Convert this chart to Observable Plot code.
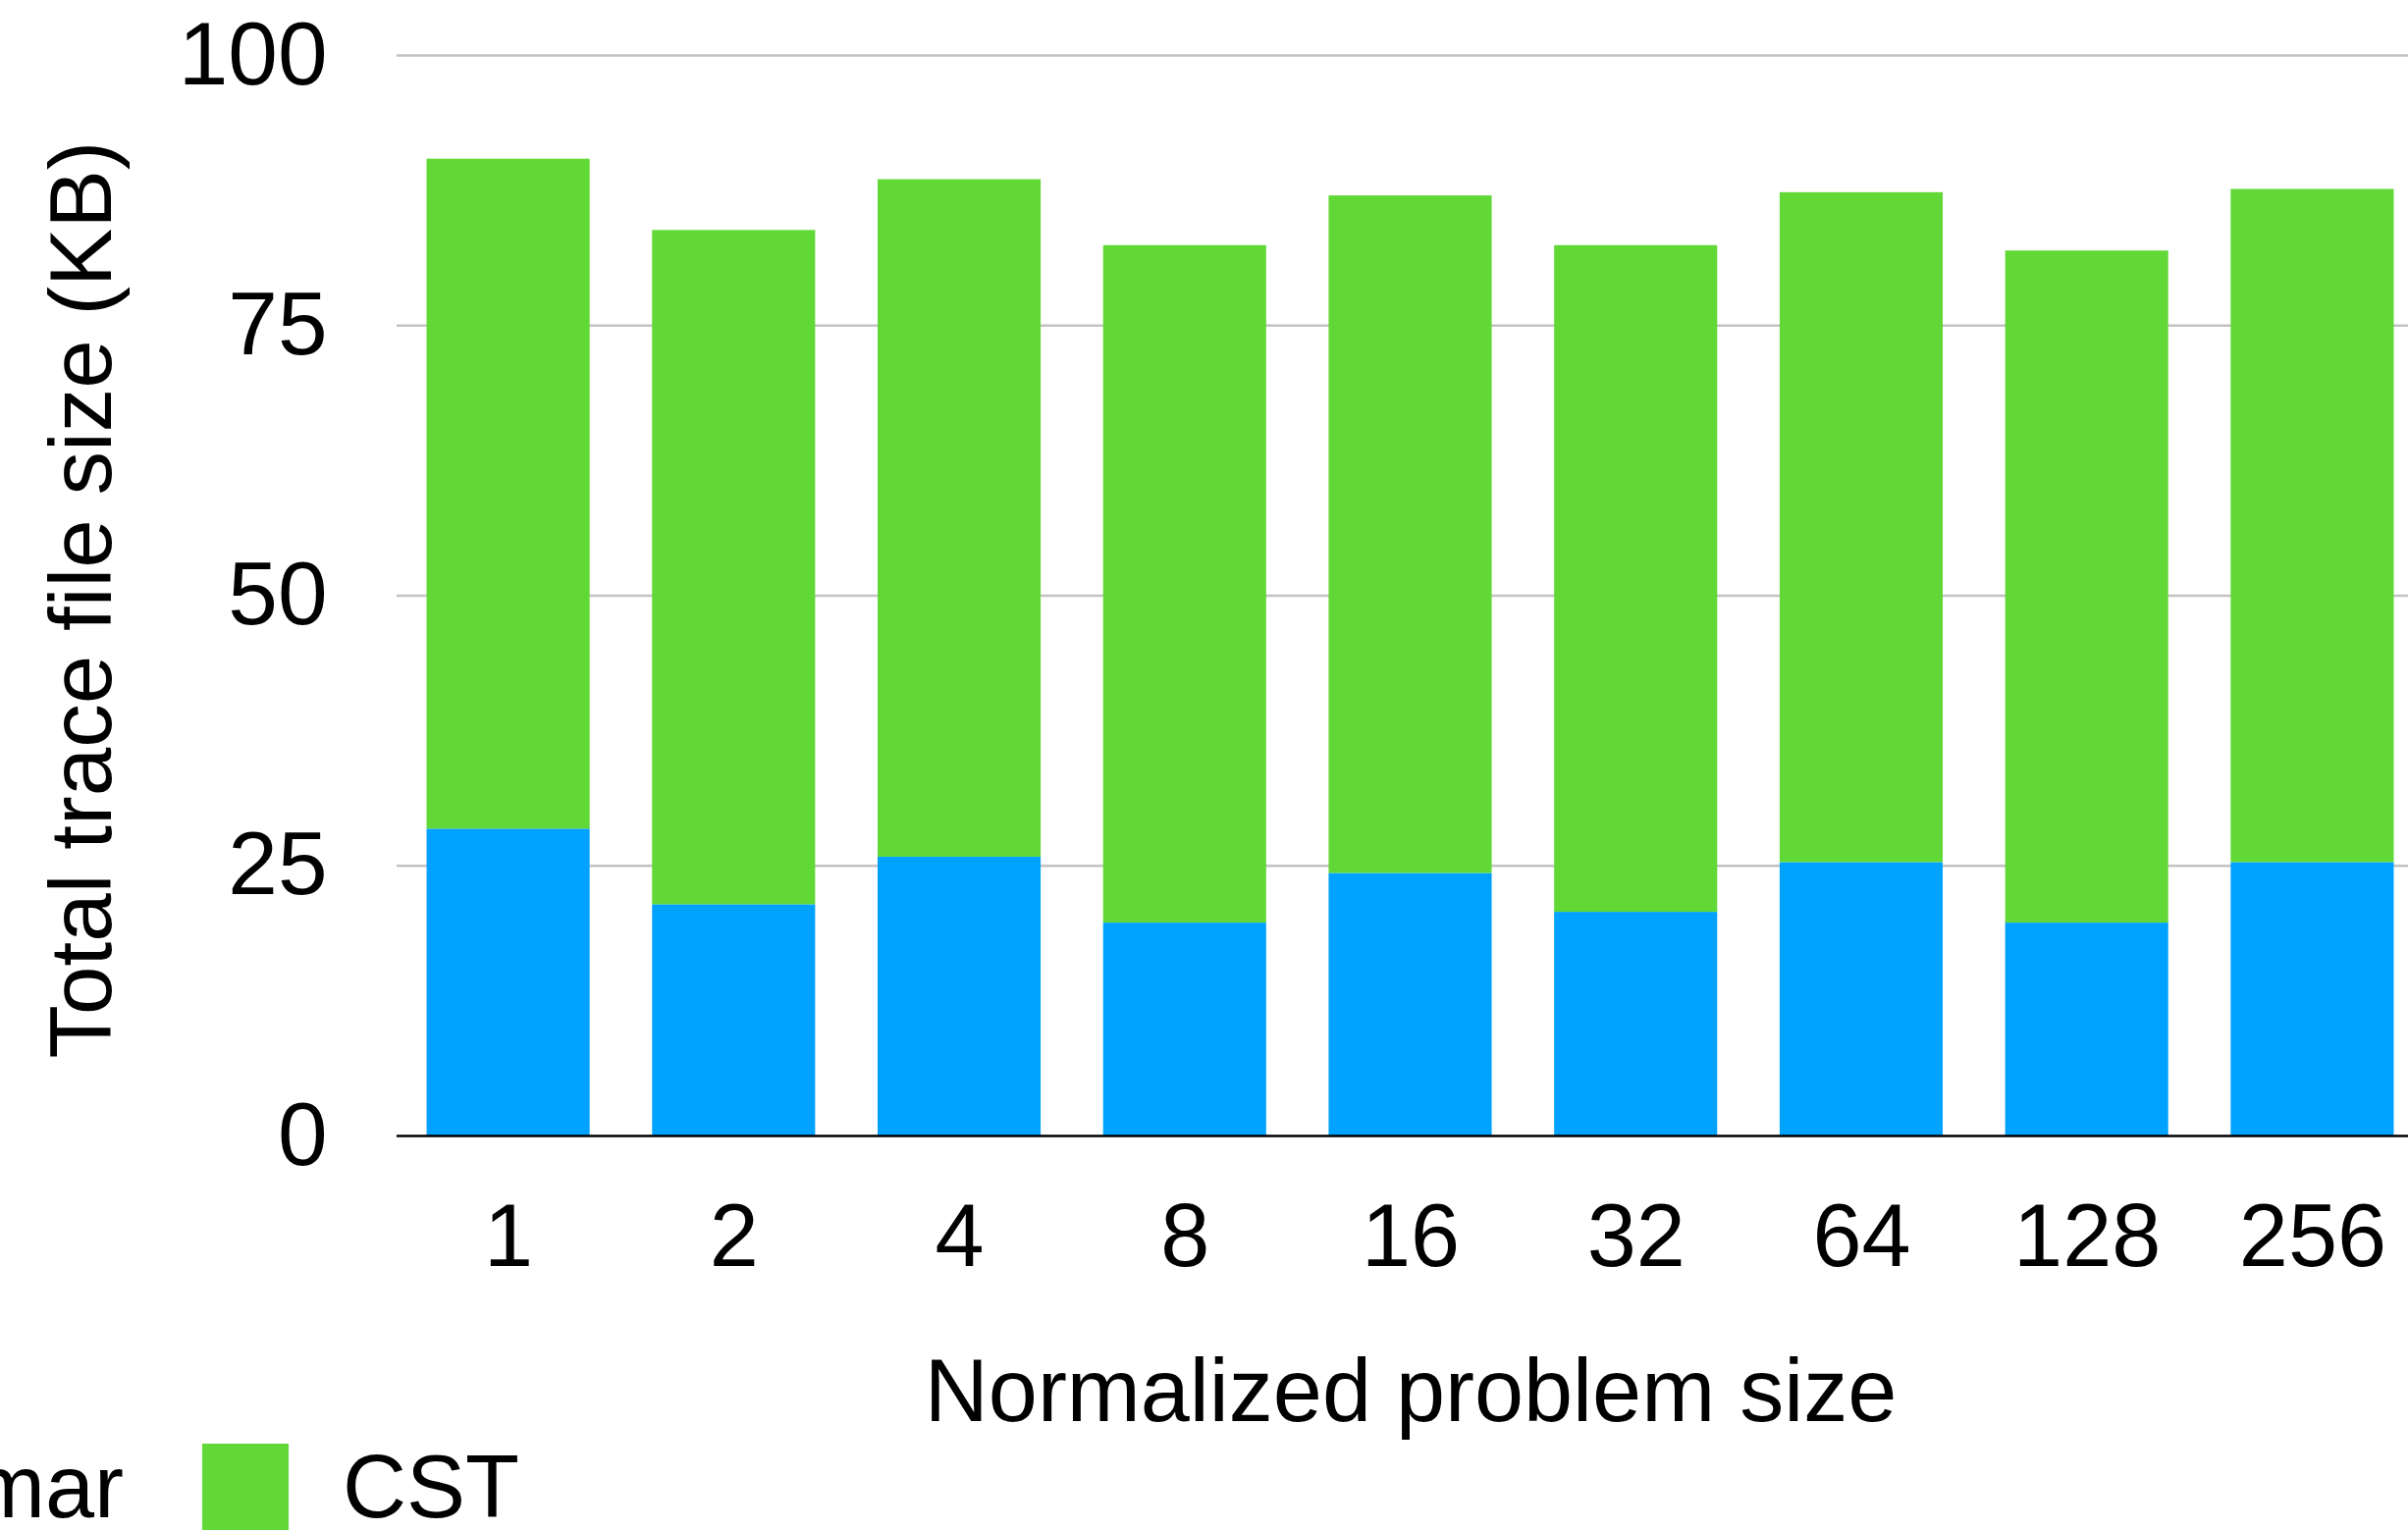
<!DOCTYPE html>
<html>
<head>
<meta charset="utf-8">
<script src="https://cdn.jsdelivr.net/npm/d3@7"></script>
<script src="https://cdn.jsdelivr.net/npm/@observablehq/plot@0.6"></script>
<style>
  html, body { margin: 0; padding: 0; background: #fff; overflow: hidden; }
  #chart { position: relative; width: 2453px; height: 1559px; overflow: hidden; }
  #legend {
    position: absolute; left: -397px; top: 1471px;
    display: flex; align-items: center; white-space: nowrap;
    font-family: "Liberation Sans", Arial, Helvetica, sans-serif; font-size: 90px; color: #000;
  }
  #legend .sw { width: 88px; height: 88px; margin-right: 55px; flex: none; }
  #legend .lab { margin-right: 80px; line-height: 80px; }
</style>
</head>
<body>
<div id="chart"></div>
<script>
// Normalized problem sizes (x categories)
const sizes = ["1", "2", "4", "8", "16", "32", "64", "128", "256"];
// Trace file size per component, in KB
const grammarKB = [28.4, 21.4, 25.8, 19.7, 24.3, 20.7, 25.3, 19.7, 25.3];
const cstKB     = [62.0, 62.4, 62.7, 62.7, 62.7, 61.7, 62.0, 62.2, 62.3];
const seriesNames = ["Grammar", "CST"];
const seriesColors = ["#00a2ff", "#61d836"];
const yTicks = [0, 25, 50, 75, 100];

// Long-form rows; Grammar first so it sits at the bottom of each stack
const rows = [];
sizes.forEach((s, i) => {
  rows.push({size: s, series: seriesNames[0], value: grammarKB[i]});
  rows.push({size: s, series: seriesNames[1], value: cstKB[i]});
});

const font = "'Liberation Sans', Arial, Helvetica, sans-serif";

const plot = Plot.plot({
  width: 2470,
  height: 1465,
  marginLeft: 404,
  marginRight: 1,
  marginTop: 56,
  marginBottom: 308,
  style: `font-family: ${font}; font-size: 90px; max-width: none; background: white; overflow: visible;`,
  x: {type: "band", domain: sizes, paddingInner: 0.277, paddingOuter: 0.133, round: false, label: null},
  y: {domain: [0, 100], label: null},
  color: {domain: seriesNames, range: seriesColors},
  marks: [
    Plot.ruleY(yTicks.filter(d => d > 0), {stroke: "#c2c2c2", strokeWidth: 2.7}),
    Plot.barY(rows, {x: "size", y: "value", fill: "series"}),
    Plot.ruleY([0], {stroke: "#000", strokeWidth: 2.4}),
    Plot.axisY({ticks: yTicks, tickSize: 0, tickPadding: 71, fontSize: 91, label: null}),
    Plot.axisX({tickSize: 0, tickPadding: 69, fontSize: 90, label: null}),
    Plot.text(["Normalized problem size"], {
      text: d => d, frameAnchor: "bottom", dy: 290, lineAnchor: "bottom", textAnchor: "middle", fontSize: 90, fill: "#000"
    }),
    Plot.text(["Total trace file size (KB)"], {
      text: d => d, frameAnchor: "left", dx: -292, dy: 4, rotate: -90, lineAnchor: "bottom", textAnchor: "middle", fontSize: 89, fill: "#000"
    })
  ]
});

const chart = document.getElementById("chart");
chart.appendChild(plot);

// Legend below the plot
const legend = document.createElement("div");
legend.id = "legend";
seriesNames.forEach((name, i) => {
  const sw = document.createElement("div");
  sw.className = "sw";
  sw.style.background = seriesColors[i];
  const lab = document.createElement("div");
  lab.className = "lab";
  lab.textContent = name;
  legend.appendChild(sw);
  legend.appendChild(lab);
});
chart.appendChild(legend);
</script>
</body>
</html>
